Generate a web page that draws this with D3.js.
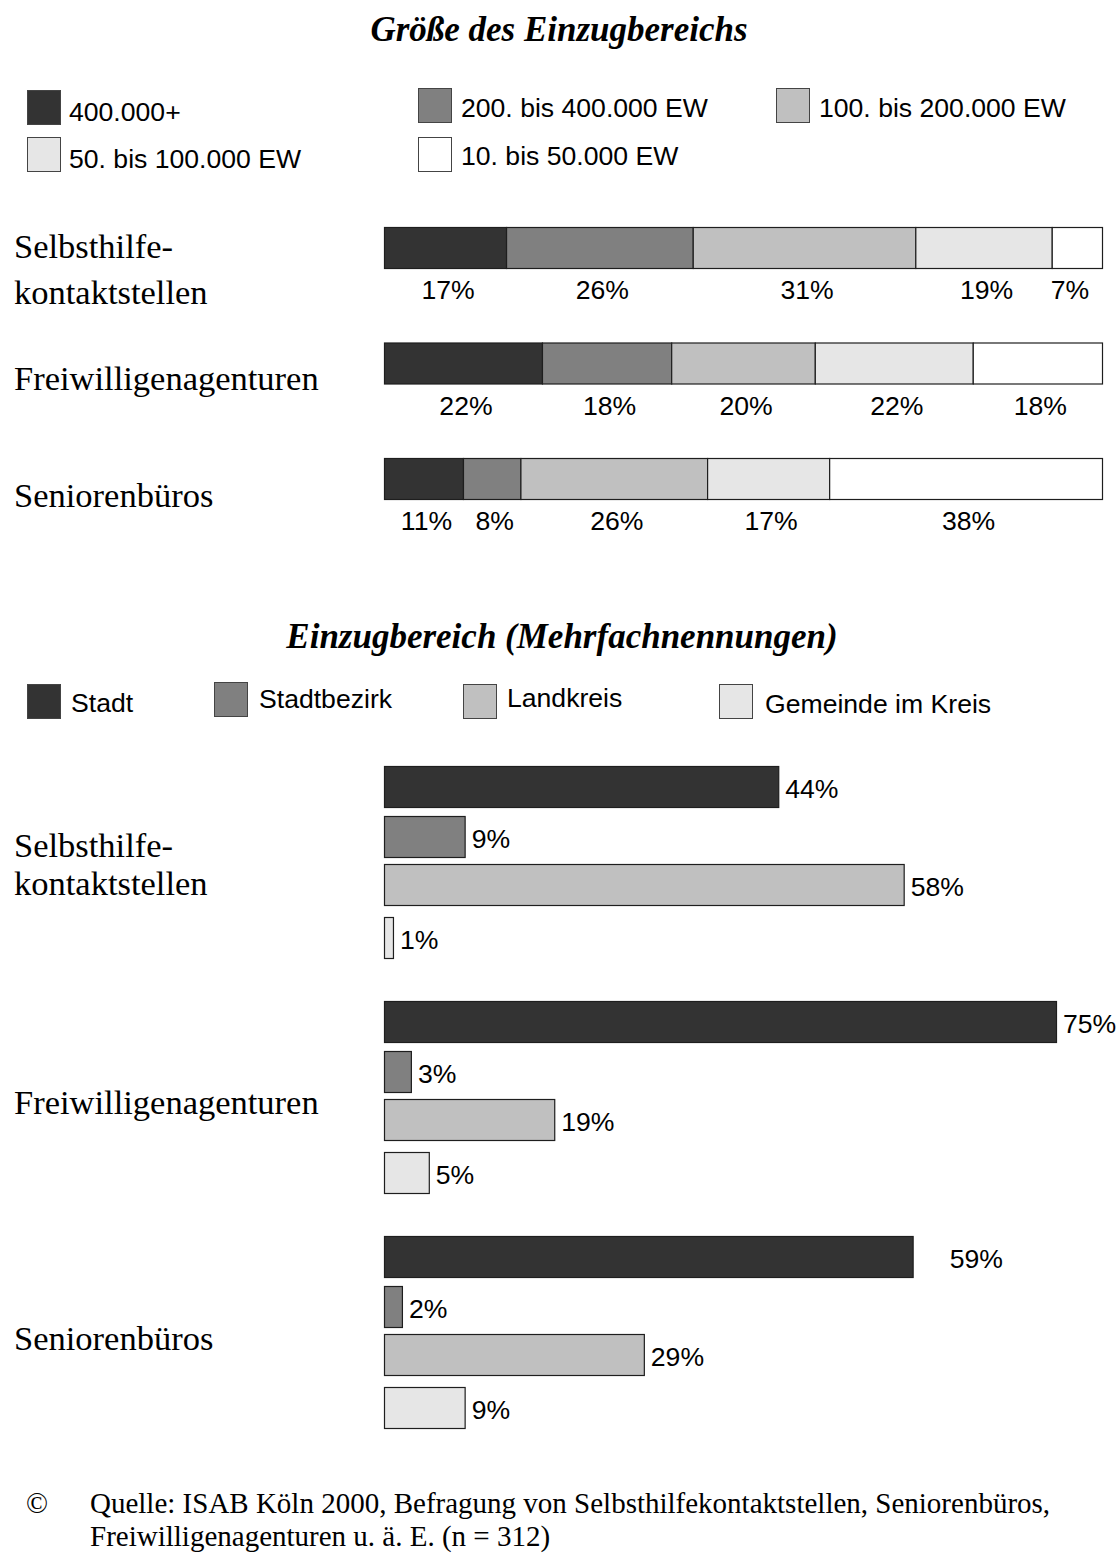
<!DOCTYPE html>
<html>
<head>
<meta charset="utf-8">
<script src="https://cdn.jsdelivr.net/npm/d3@7"></script>
<style>
  html, body { margin: 0; padding: 0; background: #fff; }
  svg { display: block; }
</style>
</head>
<body>
<script>
// ---------- DATA ----------
const categories = ["Selbsthilfekontaktstellen", "Freiwilligenagenturen", "Seniorenbüros"];
const categoryLines = [["Selbsthilfe-", "kontaktstellen"], ["Freiwilligenagenturen"], ["Seniorenbüros"]];

const sizeClasses = ["400.000+", "200. bis 400.000 EW", "100. bis 200.000 EW", "50. bis 100.000 EW", "10. bis 50.000 EW"];
const sizeSelbsthilfe = [17, 26, 31, 19, 7];
const sizeFreiwillig  = [22, 18, 20, 22, 18];
const sizeSenioren    = [11, 8, 26, 17, 38];

const areaTypes = ["Stadt", "Stadtbezirk", "Landkreis", "Gemeinde im Kreis"];
const areaSelbsthilfe = [44, 9, 58, 1];
const areaFreiwillig  = [75, 3, 19, 5];
const areaSenioren    = [59, 2, 29, 9];

const title1 = "Größe des Einzugbereichs";
const title2 = "Einzugbereich (Mehrfachnennungen)";
const footer1 = "Quelle: ISAB Köln 2000, Befragung von Selbsthilfekontaktstellen, Seniorenbüros,";
const footer2 = "Freiwilligenagenturen u. ä. E. (n = 312)";

// ---------- SETUP ----------
const W = 1120, H = 1555;
const sans = "'Liberation Sans', Arial, sans-serif";
const serif = "'Liberation Serif', 'Times New Roman', serif";
const fills5 = ["#333333", "#808080", "#c0c0c0", "#e6e6e6", "#ffffff"];
const fills4 = fills5.slice(0, 4);
const strokeCol = "#1e1e1e";
const fsSans = 26.6, fsCat = 34.5, fsTitle = 35, fsFoot = 29;

const svg = d3.select("body").append("svg").attr("width", W).attr("height", H);

// ---------- TITLE 1 ----------
svg.append("text").attr("x", 559).attr("y", 41).attr("text-anchor", "middle")
  .attr("font-family", serif).attr("font-size", fsTitle).attr("font-weight", "bold").attr("font-style", "italic")
  .text(title1);

// ---------- LEGEND 1 ----------
const color5 = d3.scaleOrdinal().domain(sizeClasses).range(fills5);
const legend1Pos = [
  {bx: 27, by: 90, tx: 69, ty: 121},
  {bx: 418, by: 88, tx: 461, ty: 117},
  {bx: 776, by: 88, tx: 819, ty: 117},
  {bx: 27, by: 137, tx: 69, ty: 168},
  {bx: 418, by: 137, tx: 461, ty: 165}
];
const lg1 = svg.append("g").selectAll("g").data(sizeClasses).join("g");
lg1.append("rect")
  .attr("x", (d, i) => legend1Pos[i].bx + 0.5).attr("y", (d, i) => legend1Pos[i].by + 0.5)
  .attr("width", 33).attr("height", 34)
  .attr("fill", d => color5(d)).attr("stroke", "#444").attr("stroke-width", 1);
lg1.append("text")
  .attr("x", (d, i) => legend1Pos[i].tx).attr("y", (d, i) => legend1Pos[i].ty)
  .attr("font-family", sans).attr("font-size", fsSans).text(d => d);

// ---------- STACKED BARS ----------
const sizeData = [sizeSelbsthilfe, sizeFreiwillig, sizeSenioren];
const x1 = d3.scaleLinear().domain([0, 100]).range([384, 1102]);
const y1 = d3.scalePoint().domain(categories).range([227, 458]);
const barH1 = 41;

const stackRows = sizeData.map((vals, ci) => {
  const obj = {cat: categories[ci]};
  sizeClasses.forEach((k, j) => obj[k] = vals[j]);
  return obj;
});
const stacked = d3.stack().keys(sizeClasses)(stackRows);

const g1 = svg.append("g");
stacked.forEach((layer, li) => {
  layer.forEach((seg, ci) => {
    const x0 = x1(seg[0]), xe = x1(seg[1]);
    const y = y1(categories[ci]);
    g1.append("rect")
      .attr("x", x0 + 0.5).attr("y", y + 0.5)
      .attr("width", xe - x0).attr("height", barH1)
      .attr("fill", fills5[li]).attr("stroke", strokeCol).attr("stroke-width", 1.2);
  });
});
stacked.forEach((layer, li) => {
  layer.forEach((seg, ci) => {
    const x0 = x1(seg[0]), xe = x1(seg[1]);
    const y = y1(categories[ci]);
    const shift = (li === 4 && xe - x0 < 60) ? -10 : 0;
    g1.append("text")
      .attr("x", (x0 + xe) / 2 + 3 + shift).attr("y", y + barH1 + 31)
      .attr("text-anchor", "middle")
      .attr("font-family", sans).attr("font-size", fsSans)
      .text(sizeData[ci][li] + "%");
  });
});

// category labels for section 1
const catLabelY1 = [[258, 304], [390], [507]];
categoryLines.forEach((lines, ci) => {
  lines.forEach((ln, k) => {
    svg.append("text").attr("x", 14).attr("y", catLabelY1[ci][k])
      .attr("font-family", serif).attr("font-size", fsCat).text(ln);
  });
});

// ---------- TITLE 2 ----------
svg.append("text").attr("x", 562).attr("y", 648).attr("text-anchor", "middle")
  .attr("font-family", serif).attr("font-size", fsTitle).attr("font-weight", "bold").attr("font-style", "italic")
  .text(title2);

// ---------- LEGEND 2 ----------
const color4 = d3.scaleOrdinal().domain(areaTypes).range(fills4);
const legend2Pos = [
  {bx: 27, by: 684, tx: 71, ty: 712},
  {bx: 214, by: 682, tx: 259, ty: 708},
  {bx: 463, by: 684, tx: 507, ty: 707},
  {bx: 719, by: 684, tx: 765, ty: 713}
];
const lg2 = svg.append("g").selectAll("g").data(areaTypes).join("g");
lg2.append("rect")
  .attr("x", (d, i) => legend2Pos[i].bx + 0.5).attr("y", (d, i) => legend2Pos[i].by + 0.5)
  .attr("width", 33).attr("height", 34)
  .attr("fill", d => color4(d)).attr("stroke", "#444").attr("stroke-width", 1);
lg2.append("text")
  .attr("x", (d, i) => legend2Pos[i].tx).attr("y", (d, i) => legend2Pos[i].ty)
  .attr("font-family", sans).attr("font-size", fsSans).text(d => d);

// ---------- GROUPED BARS ----------
const areaData = [areaSelbsthilfe, areaFreiwillig, areaSenioren];
const x2 = d3.scaleLinear().domain([0, 100]).range([384, 384 + 896]);
const y2 = d3.scalePoint().domain(categories).range([766, 1236]);
const yInner = d3.scaleOrdinal().domain(areaTypes).range([0, 50, 98, 151]);
const barH2 = 41;

const g2 = svg.append("g");
areaData.forEach((vals, ci) => {
  vals.forEach((v, j) => {
    const y = y2(categories[ci]) + yInner(areaTypes[j]);
    g2.append("rect")
      .attr("x", x2(0) + 0.5).attr("y", y + 0.5)
      .attr("width", x2(v) - x2(0)).attr("height", barH2)
      .attr("fill", color4(areaTypes[j])).attr("stroke", strokeCol).attr("stroke-width", 1.2);
    const nudge = (ci === 2 && j === 0) ? 30 : 0;
    g2.append("text")
      .attr("x", x2(v) + 7 + nudge).attr("y", y + barH2 / 2 + 11)
      .attr("font-family", sans).attr("font-size", fsSans)
      .text(v + "%");
  });
});

// category labels for section 2
const catLabelY2 = [[857, 895], [1114], [1350]];
categoryLines.forEach((lines, ci) => {
  lines.forEach((ln, k) => {
    svg.append("text").attr("x", 14).attr("y", catLabelY2[ci][k])
      .attr("font-family", serif).attr("font-size", fsCat).text(ln);
  });
});

// ---------- FOOTER ----------
svg.append("text").attr("x", 26).attr("y", 1513).attr("font-family", serif).attr("font-size", fsFoot).text("©");
svg.append("text").attr("x", 90).attr("y", 1513).attr("font-family", serif).attr("font-size", fsFoot).text(footer1);
svg.append("text").attr("x", 90).attr("y", 1546).attr("font-family", serif).attr("font-size", fsFoot).text(footer2);
</script>
</body>
</html>
